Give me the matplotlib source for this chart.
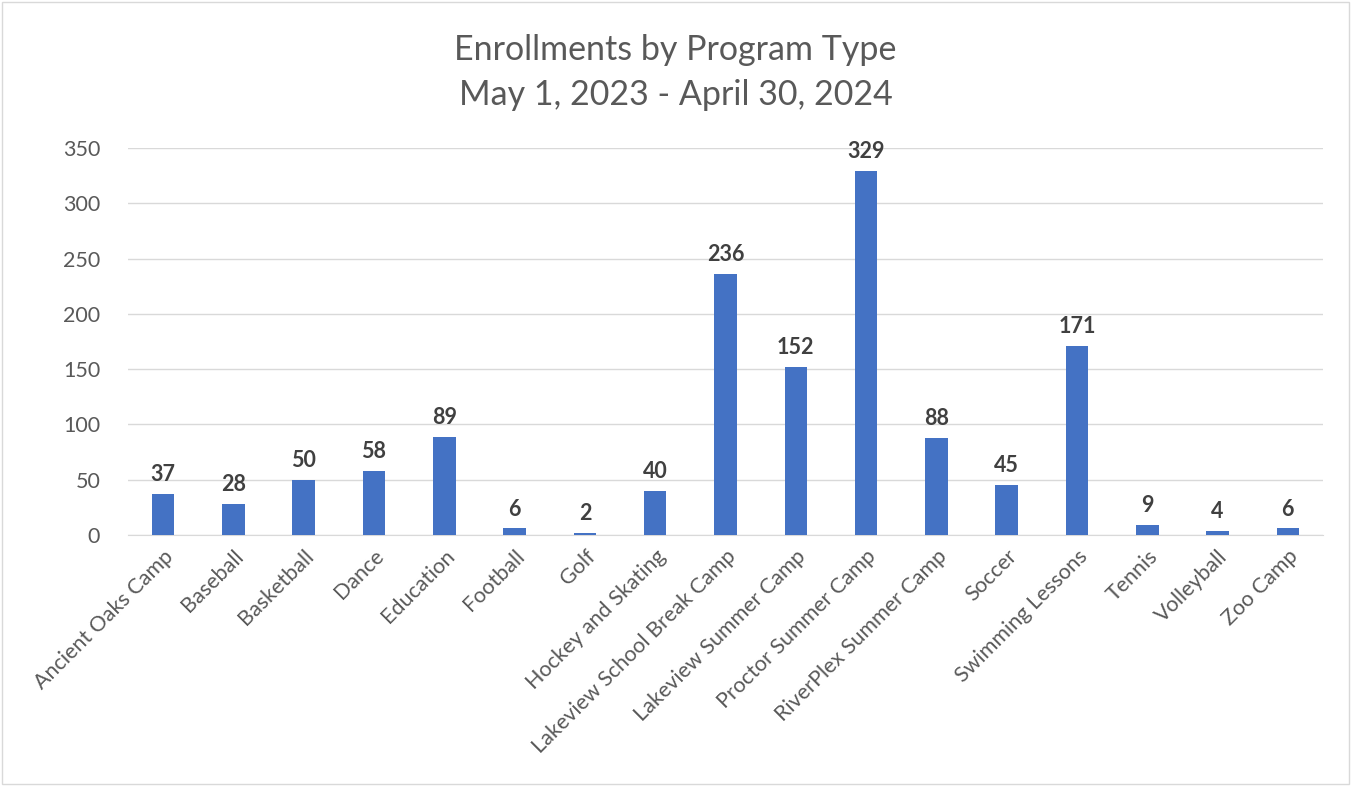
import matplotlib
matplotlib.use("Agg")
import matplotlib.pyplot as plt
from matplotlib.patches import Rectangle

programs = ["Ancient Oaks Camp", "Baseball", "Basketball", "Dance", "Education",
            "Football", "Golf", "Hockey and Skating", "Lakeview School Break Camp",
            "Lakeview Summer Camp", "Proctor Summer Camp", "RiverPlex Summer Camp",
            "Soccer", "Swimming Lessons", "Tennis", "Volleyball", "Zoo Camp"]
enrollments = [37, 28, 50, 58, 89, 6, 2, 40, 236, 152, 329, 88, 45, 171, 9, 4, 6]
y_ticks = [0, 50, 100, 150, 200, 250, 300, 350]

BLUE = "#4472C4"
GREY = "#595959"

plt.rcParams["font.family"] = ["Lato", "DejaVu Sans"]

fig = plt.figure(figsize=(13.51, 7.86), dpi=100)
ax = fig.add_axes([128 / 1351, 1 - 535 / 786, (1323 - 128) / 1351, (535 - 148) / 786])

x = range(len(programs))
ax.bar(x, enrollments, width=0.32, color=BLUE, zorder=3)
for i, v in zip(x, enrollments):
    ax.text(i, v + 8, str(v), ha="center", va="bottom", fontsize=15.5,
            fontweight="bold", color="#404040")

ax.set_xlim(-0.5, len(programs) - 0.5)
ax.set_ylim(0, 350)
ax.set_yticks(y_ticks)
ax.set_xticks(list(x))
ax.set_xticklabels(programs, rotation=45, ha="right", rotation_mode="anchor",
                   fontsize=15.5, color=GREY)
ax.tick_params(axis="y", labelsize=15.5, labelcolor=GREY, length=0, pad=20)
ax.tick_params(axis="x", length=0, pad=8)
ax.grid(axis="y", color="#D9D9D9", lw=1, zorder=0)
for s in ["top", "right", "left"]:
    ax.spines[s].set_visible(False)
ax.spines["bottom"].set_color("#D9D9D9")

fig.text(0.5, 1 - 50 / 786, "Enrollments by Program Type", ha="center", va="center",
         fontsize=24.5, color=GREY)
fig.text(0.5, 1 - 95 / 786, "May 1, 2023 - April 30, 2024", ha="center", va="center",
         fontsize=24.5, color=GREY)

fig.patches.append(Rectangle((2 / 1351, 2 / 786), 1 - 4 / 1351, 1 - 4 / 786,
                             transform=fig.transFigure, fill=False,
                             edgecolor="#D9D9D9", lw=1))

fig.savefig("out.png", dpi=100, facecolor="white")
